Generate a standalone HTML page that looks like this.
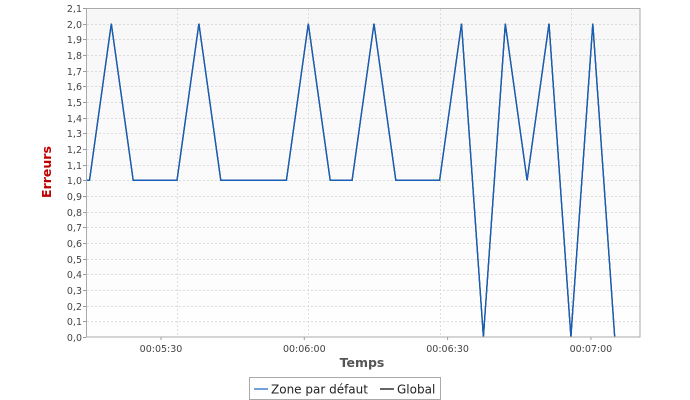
<!DOCTYPE html>
<html><head><meta charset="utf-8"><style>
body{margin:0;background:#fff;}
svg{display:block;font-family:"DejaVu Sans","Liberation Sans",sans-serif;}
</style></head><body>
<svg id="chart" width="690" height="400" viewBox="0 0 690 400">
<defs><linearGradient id="bg" x1="0" y1="0" x2="0" y2="1"><stop offset="0" stop-color="#f7f7f7"/><stop offset="1" stop-color="#fefefe"/></linearGradient></defs>
<rect x="86" y="8" width="554" height="329" fill="url(#bg)"/>
<g id="grid"></g>
<g id="yaxis"></g>
<g id="xaxis"></g>
<g id="series"></g>
<rect x="86.5" y="8.5" width="553.5" height="328.5" fill="none" stroke="#aaa" stroke-width="1"/>
<text x="51" y="172" transform="rotate(-90 51 172)" text-anchor="middle" font-size="12.5" font-weight="bold" fill="#c00000">Erreurs</text>
<text x="362" y="367" text-anchor="middle" font-size="12.5" font-weight="bold" fill="#555">Temps</text>
<g>
<rect x="249.5" y="377.5" width="191" height="22" fill="#fff" stroke="#aaa"/>
<line x1="254" y1="389" x2="268" y2="389" stroke="#1560bd" stroke-width="1.2"/>
<text x="271" y="393.5" font-size="12" fill="#222">Zone par défaut</text>
<line x1="380" y1="389" x2="394" y2="389" stroke="#000" stroke-width="1.2"/>
<text x="397" y="393.5" font-size="12" fill="#222">Global</text>
</g>
</svg>
<script>
// data: time in seconds, value in errors
const times = [309,310,315,320,325,330,335,340,345,350,355,360,365,370,375,380,385,390,395,400,405,410,415,420,425,430];
const zoneValues = [1,1,2,1,1,1,2,1,1,1,1,2,1,1,2,1,1,1,2,0,2,1,2,0,2,0];
const globalValues = [1,1,2,1,1,1,2,1,1,1,1,2,1,1,2,1,1,1,2,0,2,1,2,0,2,0];
const yTicks = [0,0.1,0.2,0.3,0.4,0.5,0.6,0.7,0.8,0.9,1.0,1.1,1.2,1.3,1.4,1.5,1.6,1.7,1.8,1.9,2.0,2.1];
const xGridTimes = [330,360,390,420];
const xTickLabels = ["00:05:30","00:06:00","00:06:30","00:07:00"];

const NS="http://www.w3.org/2000/svg";
const xs = t => 177 + (t-330)*(131.3/30);
const ys = v => 337 - v*(329/2.1);
function mk(tag, attrs, parent){const e=document.createElementNS(NS,tag);for(const k in attrs)e.setAttribute(k,attrs[k]);parent.appendChild(e);return e;}
const grid=document.getElementById('grid'), ya=document.getElementById('yaxis'), xa=document.getElementById('xaxis'), se=document.getElementById('series');

yTicks.forEach(v=>{
  const y=Math.round(ys(v))+0.5;
  if(v>0 && v<2.1){const g=mk('line',{x1:87,x2:640,y1:y,y2:y,stroke:'#ddd','stroke-dasharray':'2,2'},grid);
  
  }
  const tk=mk('line',{x1:83,x2:86,y1:y,y2:y,stroke:'#999'},ya);
  
  
  const t=mk('text',{x:82,y:y+3.5,'text-anchor':'end','font-size':9.5,fill:'#444'},ya);
  t.textContent=v.toFixed(1).replace('.',',');
  
  
});
xGridTimes.forEach((tm,i)=>{
  const x=Math.round(xs(tm))+0.5;
  const g=mk('line',{x1:x,x2:x,y1:9,y2:337,stroke:'#ddd','stroke-dasharray':'2,2'},grid);
  
  
  const lx=161+i*143.3;
  const tk=mk('line',{x1:lx,x2:lx,y1:337,y2:340,stroke:'#999'},xa);
  
  
  const t=mk('text',{x:lx,y:352,'text-anchor':'middle','font-size':9.5,fill:'#444'},xa);
  t.textContent=xTickLabels[i];
  
  
});
function line(vals,color,name){
  const p=mk('polyline',{points:times.map((t,i)=>xs(Math.max(t,309.2)).toFixed(1)+','+ys(vals[i]).toFixed(1)).join(' '),fill:'none',stroke:color,'stroke-width':1.3,'stroke-linejoin':'miter'},se);
  
  
}
line(globalValues,'#000','series-global');
line(zoneValues,'#1560bd','series-zone-par-defaut');
</script>
</body></html>
